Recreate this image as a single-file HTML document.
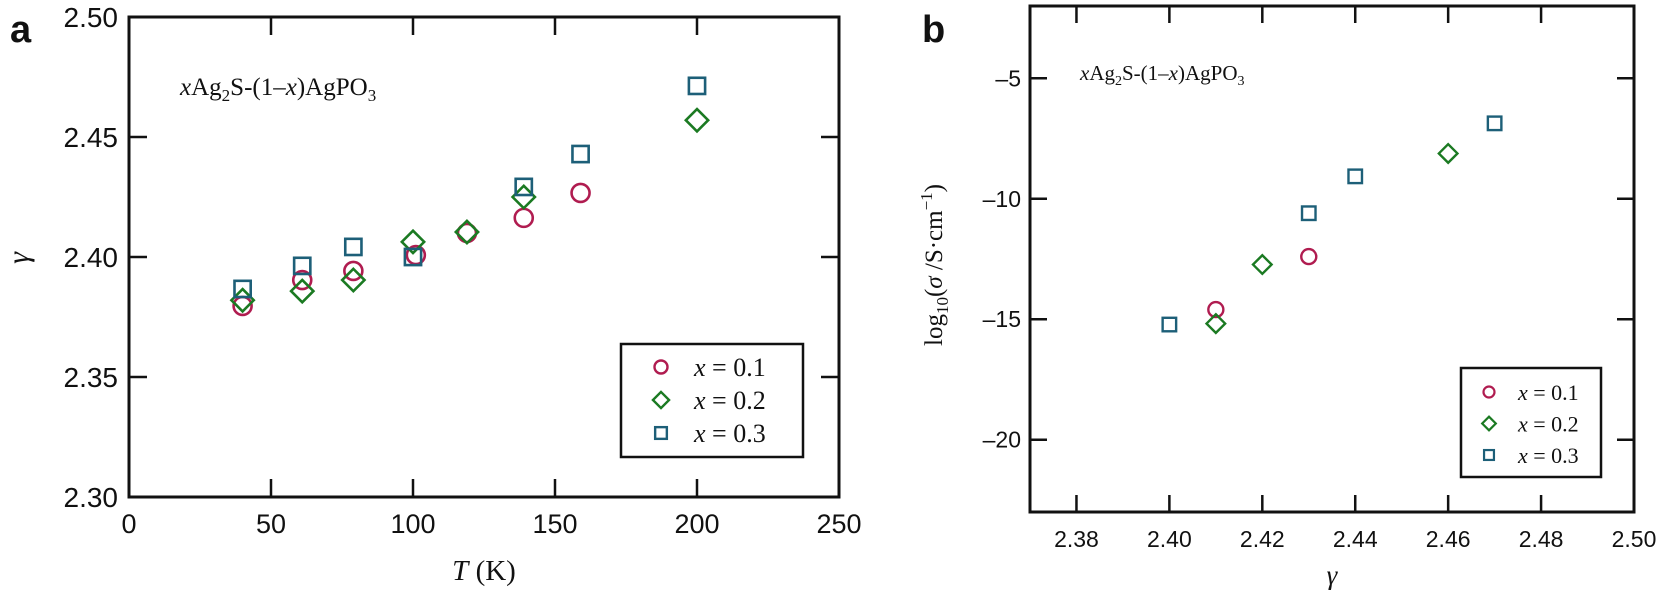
<!DOCTYPE html>
<html><head><meta charset="utf-8"><style>
html,body{margin:0;padding:0;background:#fff;}
svg{display:block;}
.tk{font-family:"Liberation Sans",Arial,sans-serif;fill:#111;}
.sf{font-family:"Liberation Serif","Times New Roman",serif;fill:#111;}
</style></head><body>
<svg id="fig" width="1658" height="591" viewBox="0 0 1658 591">
<text x="10" y="42" class="tk" font-size="38" font-weight="bold">a</text>
<text x="922" y="42" class="tk" font-size="38" font-weight="bold">b</text>
<g id="pa"></g>
<g id="pb"></g>
</svg>
<script>
// Panel a data
const tempsA = [40, 61, 79, 100, 119, 139, 159];
const gammaX01 = [2.3796, 2.3904, 2.3942, 2.4008, 2.4100, 2.4163, 2.4267];
const tempsA01 = [40, 61, 79, 101, 119, 139, 159];
const tempsA02 = [40, 61, 79, 100, 119, 139, 200];
const gammaX02 = [2.3820, 2.3858, 2.3904, 2.4063, 2.4104, 2.4250, 2.4570];
const tempsA03 = [40, 61, 79, 100, 139, 159, 200];
const gammaX03 = [2.3867, 2.3963, 2.4042, 2.4000, 2.4292, 2.4429, 2.4713];
const xTicksA = [0, 50, 100, 150, 200, 250];
const yTicksA = [2.30, 2.35, 2.40, 2.45, 2.50];
// Panel b data
const gB01 = [2.41, 2.43];
const sB01 = [-14.6, -12.4];
const gB02 = [2.41, 2.42, 2.46];
const sB02 = [-15.18, -12.73, -8.12];
const gB03 = [2.40, 2.43, 2.44, 2.47];
const sB03 = [-15.22, -10.6, -9.07, -6.87];
const xTicksB = [2.38, 2.40, 2.42, 2.44, 2.46, 2.48, 2.50];
const yTicksB = [-5, -10, -15, -20];

const NS = "http://www.w3.org/2000/svg";
const C1 = "#b01c50", C2 = "#1b7a22", C3 = "#1d5f78";
function mk(parent, tag, attrs) {
  const e = document.createElementNS(NS, tag);
  for (const k in attrs) e.setAttribute(k, attrs[k]);
  parent.appendChild(e);
  return e;
}
function marker(g, type, cx, cy, s, color, sw) {
  let e;
  if (type === "circle") e = mk(g, "circle", {cx: cx, cy: cy, r: s * 0.5, fill: "none", stroke: color, "stroke-width": sw});
  else if (type === "diamond") e = mk(g, "polygon", {points: `${cx},${cy - s * 0.62} ${cx + s * 0.62},${cy} ${cx},${cy + s * 0.62} ${cx - s * 0.62},${cy}`, fill: "none", stroke: color, "stroke-width": sw});
  else e = mk(g, "rect", {x: cx - s * 0.45, y: cy - s * 0.45, width: s * 0.9, height: s * 0.9, fill: "none", stroke: color, "stroke-width": sw});
  return e;
}

// ---------- Panel a ----------
(function () {
  const g = document.getElementById("pa");
  const L = 129, R = 839, T = 17, B = 497;
  const xs = v => L + (v - 0) / 250 * (R - L);
  const ys = v => B - (v - 2.30) / 0.20 * (B - T);
  const fr = mk(g, "rect", {x: L, y: T, width: R - L, height: B - T, fill: "none", stroke: "#111", "stroke-width": 3});
  
  
  xTicksA.forEach(v => {
    const x = xs(v);
    if (v > 0 && v < 250) {
      mk(g, "line", {x1: x, y1: B, x2: x, y2: B - 18, stroke: "#111", "stroke-width": 2.5});
      mk(g, "line", {x1: x, y1: T, x2: x, y2: T + 18, stroke: "#111", "stroke-width": 2.5});
    }
    const t = mk(g, "text", {x: x, y: 533, "text-anchor": "middle", "font-size": 27, class: "tk"});
    t.textContent = String(v);
    
    
  });
  yTicksA.forEach(v => {
    const y = ys(v);
    if (v > 2.30 && v < 2.50) {
      mk(g, "line", {x1: L, y1: y, x2: L + 18, y2: y, stroke: "#111", "stroke-width": 2.5});
      mk(g, "line", {x1: R, y1: y, x2: R - 18, y2: y, stroke: "#111", "stroke-width": 2.5});
    }
    const t = mk(g, "text", {x: 118, y: y + 10, "text-anchor": "end", "font-size": 28, class: "tk"});
    t.textContent = v.toFixed(2);
    
    
  });
  const series = [
    {t: tempsA01, v: gammaX01, type: "circle", c: C1, n: "series-x01"},
    {t: tempsA02, v: gammaX02, type: "diamond", c: C2, n: "series-x02"},
    {t: tempsA03, v: gammaX03, type: "square", c: C3, n: "series-x03"}
  ];
  series.forEach(s => {
    const sg = mk(g, "g", {});
    
    
    s.t.forEach((tv, i) => {
      const m = marker(sg, s.type, xs(tv), ys(s.v[i]), 18, s.c, 2.6);
      
      
    });
  });
  // legend
  const lg = mk(g, "g", {});
  
  
  mk(lg, "rect", {x: 621, y: 344, width: 182, height: 113, fill: "#fff", stroke: "#111", "stroke-width": 2.5});
  const lab = ["0.1", "0.2", "0.3"], typ = ["circle", "diamond", "square"], col = [C1, C2, C3];
  lab.forEach((l, i) => {
    const y = 367 + i * 33;
    marker(lg, typ[i], 661, y, 13, col[i], 2.4);
    const t = mk(lg, "text", {x: 694, y: y + 9, "font-size": 26, class: "sf"});
    t.innerHTML = '<tspan font-style="italic">x</tspan> = ' + l;
    
    
  });
  const an = mk(g, "text", {x: 180, y: 95, "font-size": 25, class: "sf"});
  an.innerHTML = '<tspan font-style="italic">x</tspan>Ag<tspan font-size="17" dy="6">2</tspan><tspan dy="-6">S-(1–</tspan><tspan font-style="italic">x</tspan>)AgPO<tspan font-size="17" dy="6">3</tspan>';
  
  
  const xl = mk(g, "text", {x: 484, y: 580, "text-anchor": "middle", "font-size": 29, class: "sf"});
  xl.innerHTML = '<tspan font-style="italic">T</tspan> (K)';
  
  
  const yl = mk(g, "text", {x: 0, y: 0, transform: "translate(28,258) rotate(-90)", "text-anchor": "middle", "font-size": 30, "font-style": "italic", class: "sf"});
  yl.textContent = "γ";
  
  
})();

// ---------- Panel b ----------
(function () {
  const g = document.getElementById("pb");
  const L = 1030, R = 1634, T = 6, B = 512;
  const xs = v => L + (v - 2.37) / 0.13 * (R - L);
  const ys = v => B - (v - (-23)) / 21 * (B - T);
  const fr = mk(g, "rect", {x: L, y: T, width: R - L, height: B - T, fill: "none", stroke: "#111", "stroke-width": 3});
  
  
  xTicksB.forEach(v => {
    const x = xs(v);
    if (v < 2.499) {
      mk(g, "line", {x1: x, y1: B, x2: x, y2: B - 17, stroke: "#111", "stroke-width": 2.5});
      mk(g, "line", {x1: x, y1: T, x2: x, y2: T + 17, stroke: "#111", "stroke-width": 2.5});
    }
    const t = mk(g, "text", {x: x, y: 547, "text-anchor": "middle", "font-size": 23, class: "tk"});
    t.textContent = v.toFixed(2);
    
    
  });
  yTicksB.forEach(v => {
    const y = ys(v);
    mk(g, "line", {x1: L, y1: y, x2: L + 17, y2: y, stroke: "#111", "stroke-width": 2.5});
    mk(g, "line", {x1: R, y1: y, x2: R - 17, y2: y, stroke: "#111", "stroke-width": 2.5});
    const t = mk(g, "text", {x: 1021, y: y + 8, "text-anchor": "end", "font-size": 23, class: "tk"});
    t.textContent = "–" + Math.abs(v);
    
    
  });
  const series = [
    {g: gB01, v: sB01, type: "circle", c: C1, n: "series-x01"},
    {g: gB02, v: sB02, type: "diamond", c: C2, n: "series-x02"},
    {g: gB03, v: sB03, type: "square", c: C3, n: "series-x03"}
  ];
  series.forEach(s => {
    const sg = mk(g, "g", {});
    
    
    s.g.forEach((gv, i) => {
      const m = marker(sg, s.type, xs(gv), ys(s.v[i]), 15, s.c, 2.4);
      
      
    });
  });
  const lg = mk(g, "g", {});
  
  
  mk(lg, "rect", {x: 1461, y: 368, width: 140, height: 109, fill: "#fff", stroke: "#111", "stroke-width": 2.5});
  const lab = ["0.1", "0.2", "0.3"], typ = ["circle", "diamond", "square"], col = [C1, C2, C3];
  lab.forEach((l, i) => {
    const y = 392 + i * 31.5;
    marker(lg, typ[i], 1489, y, 11, col[i], 2.2);
    const t = mk(lg, "text", {x: 1518, y: y + 8, "font-size": 22, class: "sf"});
    t.innerHTML = '<tspan font-style="italic">x</tspan> = ' + l;
    
    
  });
  const an = mk(g, "text", {x: 1080, y: 80, "font-size": 21, class: "sf"});
  an.innerHTML = '<tspan font-style="italic">x</tspan>Ag<tspan font-size="14" dy="5">2</tspan><tspan dy="-5">S-(1–</tspan><tspan font-style="italic">x</tspan>)AgPO<tspan font-size="14" dy="5">3</tspan>';
  
  
  const xl = mk(g, "text", {x: 1332, y: 584, "text-anchor": "middle", "font-size": 27, "font-style": "italic", class: "sf"});
  xl.textContent = "γ";
  
  
  const yl = mk(g, "text", {x: 0, y: 0, transform: "translate(942,265) rotate(-90)", "text-anchor": "middle", "font-size": 25, class: "sf"});
  yl.innerHTML = 'log<tspan font-size="17" dy="6">10</tspan><tspan dy="-6">(</tspan><tspan font-style="italic">σ</tspan> /S·cm<tspan font-size="17" dy="-10">−1</tspan><tspan dy="10">)</tspan>';
  
  
})();
</script>
</body></html>
